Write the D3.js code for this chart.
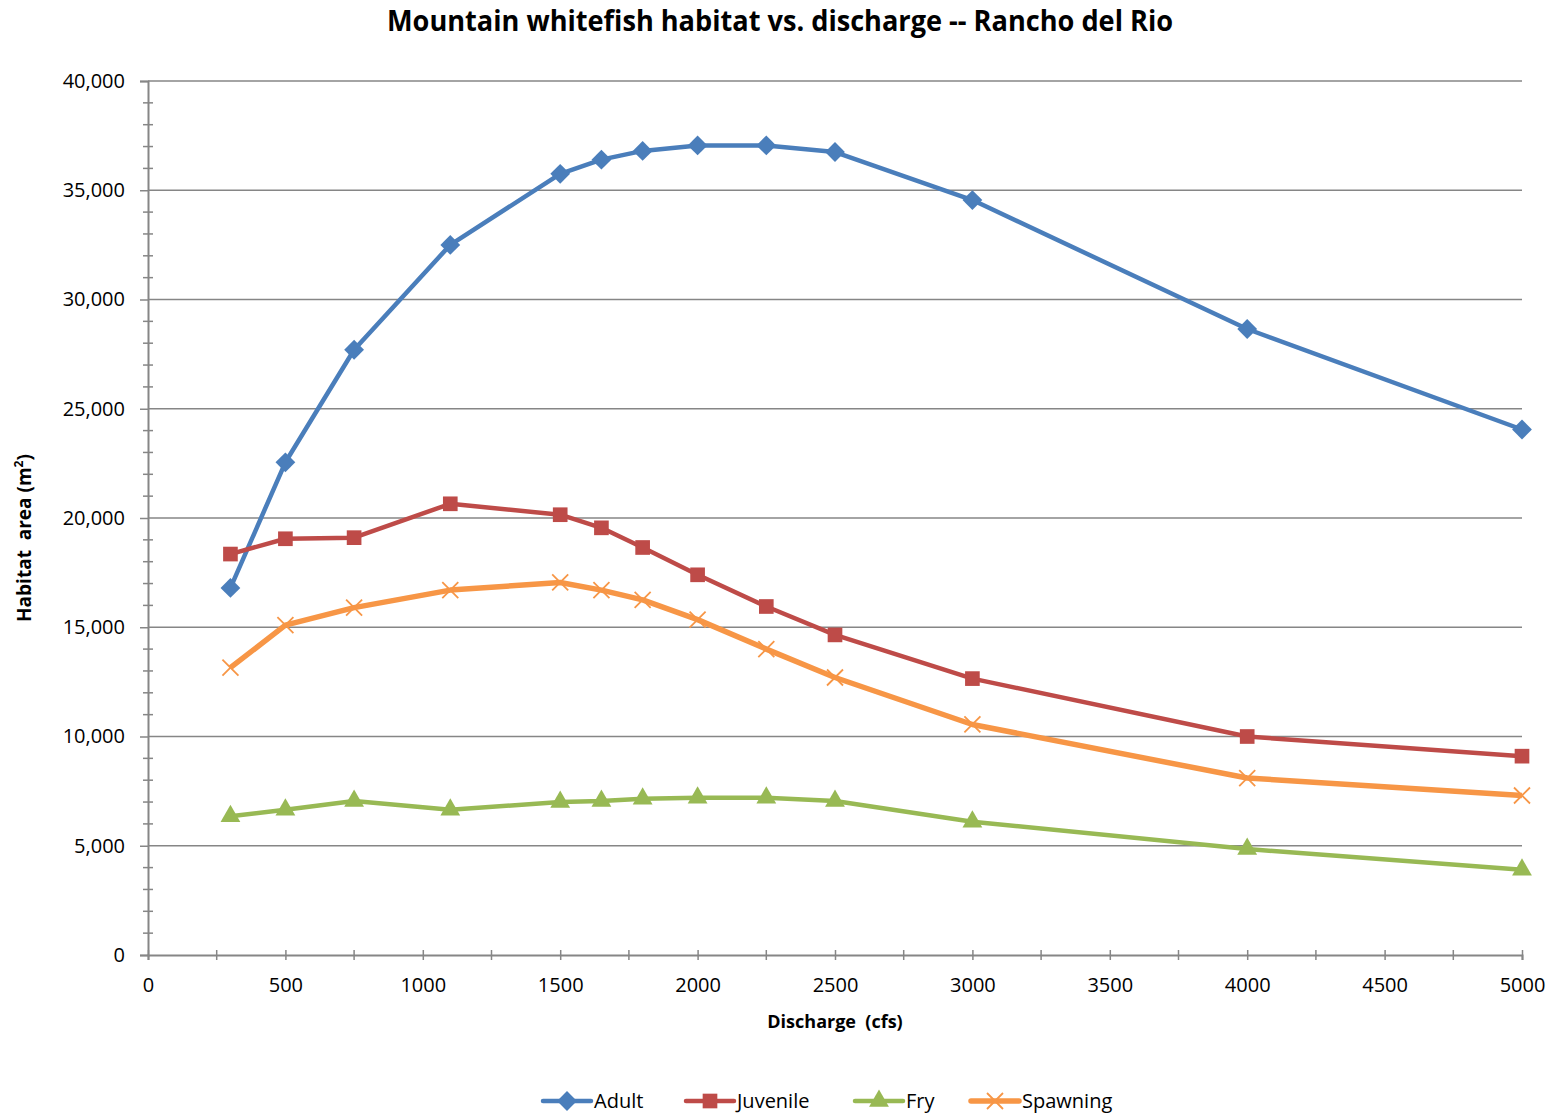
<!DOCTYPE html>
<html><head><meta charset="utf-8">
<script src="https://cdn.jsdelivr.net/npm/d3@7"></script>
<style>body{margin:0;background:#fff}svg{display:block}text{font-family:"Open Sans",sans-serif;fill:#000}</style>
</head><body><svg id="c" width="1553" height="1115"></svg>
<script>
const discharge = [300,500,750,1100,1500,1650,1800,2000,2250,2500,3000,4000,5000];
const adult    = [16800,22550,27700,32500,35750,36400,36800,37050,37050,36750,34550,28650,24050];
const juvenile = [18350,19050,19100,20650,20150,19550,18650,17400,15950,14650,12650,10000,9100];
const fry      = [6350,6650,7050,6650,7000,7050,7150,7200,7200,7050,6100,4850,3900];
const spawning = [13150,15100,15900,16700,17050,16700,16250,15350,14000,12700,10550,8100,7300];
const seriesNames = ["Adult","Juvenile","Fry","Spawning"];
const xTicks = [0,500,1000,1500,2000,2500,3000,3500,4000,4500,5000];
const yTicks = [0,5000,10000,15000,20000,25000,30000,35000,40000];

const svg = d3.select("#c");
const L=148,R=1522,T=81,B=955;
const x = d3.scaleLinear().domain([0,5000]).range([L,R]);
const y = d3.scaleLinear().domain([0,40000]).range([B,T]);
const grid="#868686";

svg.append("g").selectAll("line").data(yTicks.filter(d=>d>0)).join("line")
  .attr("x1",L).attr("x2",R).attr("y1",d=>y(d)).attr("y2",d=>y(d))
  .attr("stroke",grid).attr("stroke-width",1.5);

const yAx = svg.append("g").attr("transform",`translate(${L},0)`)
  .call(d3.axisLeft(y).tickValues(yTicks).tickFormat(d3.format(",")).tickSize(8).tickPadding(15));
yAx.select(".domain").attr("stroke",grid).attr("stroke-width",2);
yAx.selectAll(".tick line").attr("stroke",grid).attr("stroke-width",1.5);
yAx.selectAll("text").style("font-size","20px").style("font-family","Open Sans");
svg.append("g").selectAll("line").data(d3.range(1000,40000,1000).filter(d=>d%5000)).join("line")
  .attr("x1",L-5).attr("x2",L+5).attr("y1",d=>y(d)).attr("y2",d=>y(d))
  .attr("stroke",grid).attr("stroke-width",1.5);

const xAx = svg.append("g").attr("transform",`translate(0,${B})`)
  .call(d3.axisBottom(x).tickValues(xTicks).tickFormat(d3.format("d")).tickSize(5).tickPadding(18));
xAx.select(".domain").attr("stroke",grid).attr("stroke-width",2);
xAx.selectAll(".tick line").attr("stroke",grid).attr("stroke-width",1.5).attr("y1",-5);
xAx.selectAll("text").style("font-size","20px").style("font-family","Open Sans");
svg.append("g").selectAll("line").data(d3.range(250,5000,500)).join("line")
  .attr("x1",d=>x(d)).attr("x2",d=>x(d)).attr("y1",B-5).attr("y2",B+5)
  .attr("stroke",grid).attr("stroke-width",1.5);

svg.append("text").attr("x",780).attr("y",31).attr("text-anchor","middle")
  .attr("textLength",786).attr("lengthAdjust","spacingAndGlyphs")
  .style("font-size","28px").style("font-weight","bold").style("font-family","Open Sans")
  .text("Mountain whitefish habitat vs. discharge -- Rancho del Rio");
svg.append("text").attr("x",835).attr("y",1028).attr("text-anchor","middle")
  .style("font-size","18px").style("font-weight","bold").style("white-space","pre")
  .text("Discharge  (cfs)");
const yt = svg.append("text").attr("transform","translate(31,538) rotate(-90)").attr("text-anchor","middle")
  .style("font-size","19px").style("font-weight","bold").style("white-space","pre");
yt.append("tspan").text("Habitat  area (m");
yt.append("tspan").attr("dy",-8).style("font-size","12px").text("2");
yt.append("tspan").attr("dy",8).text(")");

const colors = ["#4a7ebb","#be4b48","#98b954","#f79646"];
const data = [adult,juvenile,fry,spawning];
const widths=[4.5,4.5,4.5,5.5];
const symbols=[d3.symbolDiamond2,d3.symbolSquare,d3.symbolTriangle,null];

function marker(g,i,cx,cy){
  if(i===3){
    const s=8;
    g.append("path").attr("d",`M${cx-s},${cy-s}L${cx+s},${cy+s}M${cx-s},${cy+s}L${cx+s},${cy-s}`)
      .attr("stroke",colors[i]).attr("stroke-width",1.8).attr("fill","none");
  } else {
    const sizes=[250,215,170];
    g.append("path").attr("d",d3.symbol().type(symbols[i]).size(sizes[i])())
      .attr("transform",`translate(${cx},${cy})`).attr("fill",colors[i]);
  }
}

data.forEach((vals,i)=>{
  const pts = discharge.map((d,j)=>[d,vals[j]]);
  const g = svg.append("g");
  g.append("path").datum(pts)
    .attr("d",d3.line().x(d=>x(d[0])).y(d=>y(d[1])))
    .attr("fill","none").attr("stroke",colors[i]).attr("stroke-width",widths[i]).attr("stroke-linejoin","round");
  pts.forEach(p=>marker(g,i,x(p[0]),y(p[1])));
});

const legX=[543,686,855,971];
seriesNames.forEach((n,i)=>{
  const g=svg.append("g");
  const x0=legX[i], ly=1101;
  g.append("line").attr("x1",x0).attr("x2",x0+48).attr("y1",ly).attr("y2",ly)
    .attr("stroke",colors[i]).attr("stroke-width",widths[i]).attr("stroke-linecap","round");
  marker(g,i,x0+24,ly);
  g.append("text").attr("x",x0+51).attr("y",ly+7).style("font-size","20px").text(n);
});
</script></body></html>
